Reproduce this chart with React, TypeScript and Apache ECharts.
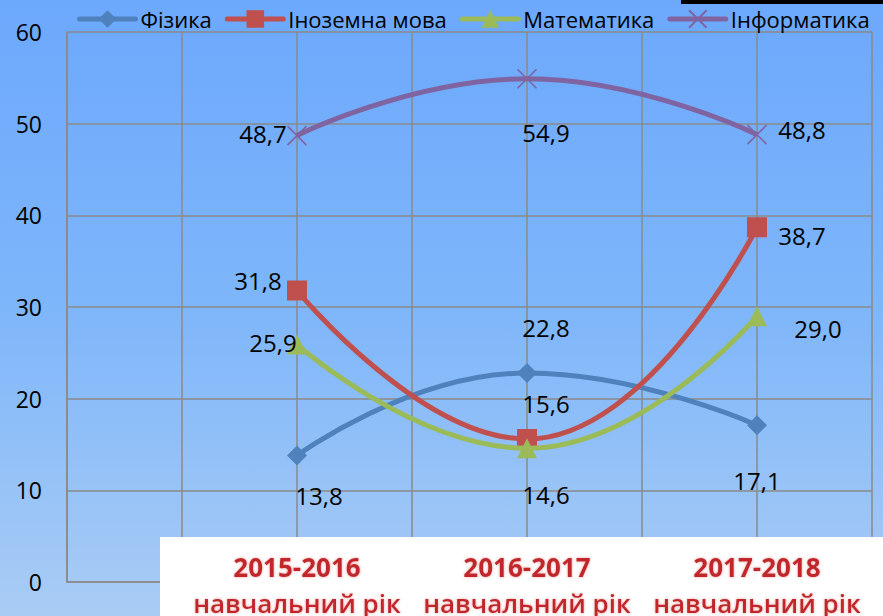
import React, { useEffect, useRef } from "react";
import * as echarts from "echarts";

const categories = ["2015-2016", "2016-2017", "2017-2018"];
const categorySuffix = "навчальний рік";
const xPositions = [1, 2, 3];
const seriesNames = ["Фізика", "Іноземна мова", "Математика", "Інформатика"];
const physics = [13.8, 22.8, 17.1];
const foreignLanguage = [31.8, 15.6, 38.7];
const mathematics = [25.9, 14.6, 29.0];
const informatics = [48.7, 54.9, 48.8];
const yTicks = [0, 10, 20, 30, 40, 50, 60];

// label offsets (styling only)
const labelOffsets: number[][][] = [
  [[22, 40], [19, -46], [0, 55]],
  [[-39, -10], [19, -36], [45, 8]],
  [[-24, -2], [19, 46], [61, 12]],
  [[-34, -2], [19, 54], [45, -5]],
];

const colors = ["#4F81BD", "#C0504D", "#9BBB59", "#8064A2"];
const symbols = ["diamond", "rect", "triangle", "path://M0,0L10,10M10,0L0,10"];
const symbolSizes = [20, 20, 20, 19];

const fmt = (v: number) => v.toFixed(1).replace(".", ",");
const FONT = "Open Sans";

export default function App() {
  const ref = useRef<HTMLDivElement>(null);
  useEffect(() => {
    if (!ref.current) return;
    const chart = echarts.init(ref.current, null, { renderer: "svg" });
    const allData = [physics, foreignLanguage, mathematics, informatics];
    const series = allData.map((vals, si) => ({
      name: seriesNames[si],
      type: "line",
      smooth: 0.5,
      z: 2 + si,
      symbol: symbols[si],
      symbolSize: symbolSizes[si],
      lineStyle: { width: 5, color: colors[si] },
      itemStyle:
        si === 3
          ? { color: "rgba(0,0,0,0)", borderColor: colors[si], borderWidth: 1.6 }
          : { color: colors[si], borderWidth: 0 },
      data: vals.map((v, i) => ({
        value: [xPositions[i], v],
        label: {
          show: true,
          position: "inside",
          offset: labelOffsets[si][i],
          formatter: () => fmt(v),
          fontFamily: FONT,
          fontSize: 24,
          color: "#000",
        },
      })),
    }));

    const redText = {
      fontFamily: FONT,
      fontSize: 26,
      color: "#C0262C",
      lineHeight: 36,
      textShadowColor: "rgba(240,150,150,0.9)",
      textShadowBlur: 3,
    };

    chart.setOption({
      animation: false,
      backgroundColor: new echarts.graphic.LinearGradient(0, 0, 0, 1, [
        { offset: 0, color: "#6CA8FC" },
        { offset: 0.5, color: "#7EB6FA" },
        { offset: 1, color: "#A9CCF4" },
      ]),
      textStyle: { fontFamily: FONT },
      legend: {
        top: 3,
        left: 72,
        width: 860,
        itemWidth: 56,
        itemHeight: 22,
        itemGap: 13,
        data: seriesNames,
        lineStyle: { width: 5, cap: "round" },
        textStyle: { fontFamily: FONT, fontSize: 22, color: "#000" },
      },
      grid: { left: 67, right: 11, top: 32, bottom: 34, containLabel: false },
      xAxis: [
        {
          type: "value",
          min: 0,
          max: 3.5,
          interval: 0.5,
          axisLine: { show: true, lineStyle: { color: "#8A8A8A", width: 1.5 } },
          axisTick: { show: false },
          axisLabel: { show: false },
          splitLine: { show: true, lineStyle: { color: "#8A8A8A", width: 1.5 } },
        },
        {
          type: "value",
          min: 0,
          max: 3.5,
          interval: 0.5,
          position: "bottom",
          offset: -33,
          z: 100,
          axisLine: { show: false },
          axisTick: { show: false },
          splitLine: { show: false },
          axisLabel: {
            show: true,
            margin: 0,
            showMinLabel: false,
            showMaxLabel: false,
            formatter: (v: number) => {
              const idx = xPositions.indexOf(v);
              if (idx < 0) return "";
              return `{a|${categories[idx]}}\n{b|${categorySuffix}}`;
            },
            rich: {
              a: { ...redText, fontWeight: "bold" },
              b: { ...redText, fontWeight: 600 },
            },
          },
        },
      ],
      yAxis: {
        type: "value",
        min: 0,
        max: 60,
        interval: 10,
        axisLine: { show: true, lineStyle: { color: "#8A8A8A", width: 1.5 } },
        axisTick: { show: false },
        axisLabel: {
          margin: 25,
          fontFamily: FONT,
          fontSize: 23,
          color: "#000",
          formatter: (v: number) => (yTicks.includes(v) ? String(v) : ""),
        },
        splitLine: { show: true, lineStyle: { color: "#8A8A8A", width: 1.5 } },
      },
      graphic: [
        {
          type: "rect",
          left: 160,
          top: 537,
          z: 50,
          shape: { width: 723, height: 79 },
          style: { fill: "#FFFFFF" },
        },
        {
          type: "rect",
          left: 681,
          top: 0,
          z: 50,
          shape: { width: 202, height: 4 },
          style: { fill: "#000000" },
        },
      ],
      series,
    });
    return () => chart.dispose();
  }, []);
  return (
    <div
      ref={ref}
      style={{ position: "fixed", left: 0, top: 0, width: 883, height: 616 }}
    />
  );
}
